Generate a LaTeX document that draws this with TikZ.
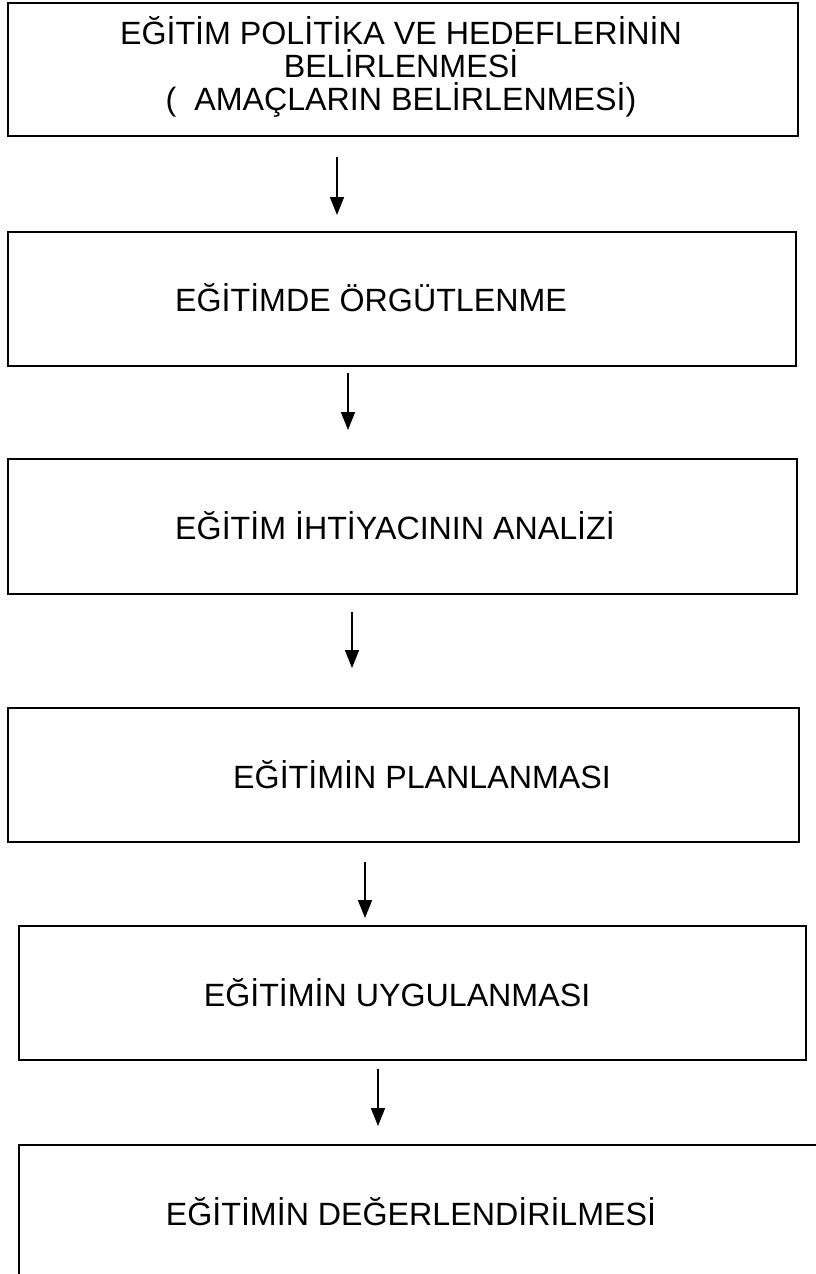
\documentclass[tikz,border=0pt]{standalone}
\usepackage{fontspec}
\setmainfont{Liberation Sans}
\usepackage{tikz}
\usetikzlibrary{arrows.meta,positioning,calc}

\tikzset{
  stage/.style={draw, line width=2pt, rectangle, anchor=north west, inner sep=0pt, outer sep=0pt},
  label/.style={font=\fontsize{32.2}{33}\selectfont, align=center, inner sep=0pt},
  flow/.style={line width=1.6pt, -{Triangle[length=18pt,width=14pt]}}
}

\begin{document}
\begin{tikzpicture}[x=1pt, y=-1pt]
\useasboundingbox[fill=white] (0,0) rectangle (816,1274);
\clip (0,0) rectangle (816,1274);

% Stages
\node[stage, minimum width=790pt, minimum height=133pt] (b1) at (8,3) {};
\node[stage, minimum width=788pt, minimum height=134pt] (b2) at (8,232) {};
\node[stage, minimum width=789pt, minimum height=135pt] (b3) at (8,459) {};
\node[stage, minimum width=791pt, minimum height=134pt] (b4) at (8,708) {};
\node[stage, minimum width=787pt, minimum height=134pt] (b5) at (19,926) {};
\node[stage, minimum width=830pt, minimum height=170pt] (b6) at (19,1145) {};

% Texts
\node[label] (t1) at (401,67) {EĞİTİM POLİTİKA VE HEDEFLERİNİN\\BELİRLENMESİ\\(\ \ AMAÇLARIN BELİRLENMESİ)};
\node[label] (t2) at (371,298) {EĞİTİMDE ÖRGÜTLENME};
\node[label] (t3) at (395,526) {EĞİTİM İHTİYACININ ANALİZİ};
\node[label] (t4) at (422,775) {EĞİTİMİN PLANLANMASI};
\node[label] (t5) at (397,993) {EĞİTİMİN UYGULANMASI};
\node[label] (t6) at (411,1212) {EĞİTİMİN DEĞERLENDİRİLMESİ};

% Arrows
\draw[flow, shorten <=21pt, shorten >=17pt] (b1.south -| 337,0) -- (b2.north -| 337,0);
\draw[flow, shorten <=7pt, shorten >=29pt] (b2.south -| 348,0) -- (b3.north -| 348,0);
\draw[flow, shorten <=18pt, shorten >=40pt] (b3.south -| 352,0) -- (b4.north -| 352,0);
\draw[flow, shorten <=20pt, shorten >=8pt] (b4.south -| 365,0) -- (b5.north -| 365,0);
\draw[flow, shorten <=9pt, shorten >=19pt] (b5.south -| 378,0) -- (b6.north -| 378,0);
\end{tikzpicture}
\end{document}
